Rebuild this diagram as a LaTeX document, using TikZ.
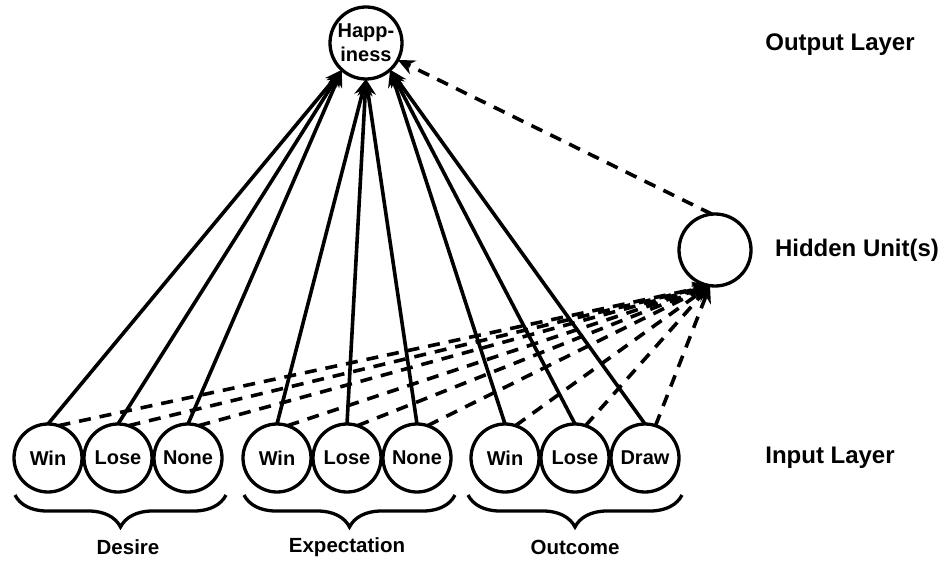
\documentclass[tikz,border=0pt]{standalone}
\usepackage{fontspec}
\setmainfont{Liberation Sans}
\usetikzlibrary{arrows.meta, decorations.pathreplacing}

\begin{document}
\begin{tikzpicture}[x=1pt, y=-1pt,
    unit/.style={circle, draw, line width=3.3pt, minimum size=68pt, inner sep=0pt,
      outer sep=0pt, align=center, font=\bfseries\fontsize{20}{24}\selectfont},
    layer/.style={font=\bfseries\fontsize{24}{28}\selectfont},
    group/.style={font=\bfseries\fontsize{20.5}{24}\selectfont},
    feed/.style={line width=3.6pt, -{Stealth[length=17pt,width=15pt]}},
    hid/.style={feed, dash pattern=on 12pt off 9pt},
    brc/.style={line width=3.3pt, decorate, decoration={brace, amplitude=32pt, aspect=0.5}}]
  %tikz  rete, happiness
    \useasboundingbox (0,0) rectangle (944,561);
    % output and hidden
    \node[unit, minimum size=72pt] (happy) at (366,43) {Happ-\\iness};
    \node[unit, minimum size=72pt] (hidden) at (715,250) {};
    % input layer
    \node[unit] (dwin) at (48,458) {Win};
    \node[unit] (dlose) at (118,458) {Lose};
    \node[unit] (dnone) at (188,458) {None};
    \node[unit] (ewin) at (277,458) {Win};
    \node[unit] (elose) at (347,458) {Lose};
    \node[unit] (enone) at (417,458) {None};
    \node[unit] (owin) at (505,458) {Win};
    \node[unit] (olose) at (575,458) {Lose};
    \node[unit] (odraw) at (645,458) {Draw};
    % labels
    \node[layer] (outlab) at (840,45) {Output Layer};
    \node[layer] (hidlab) at (857,250) {Hidden Unit(s)};
    \node[layer] (inlab) at (830,458) {Input Layer};
    % braces
    \draw[brc] ([xshift=4pt,yshift=-37pt]dnone.east) -- ([xshift=1pt,yshift=-37pt]dwin.west);
    \draw[brc] ([xshift=4pt,yshift=-37pt]enone.east) -- ([xshift=1pt,yshift=-37pt]ewin.west);
    \draw[brc] ([xshift=3pt,yshift=-37pt]odraw.east) -- ([xshift=-3pt,yshift=-37pt]owin.west);
    \node[group] (desire) at (128,547) {Desire};
    \node[group] (expect) at (347,547) {Expectation};
    \node[group] (outcome) at (575,547) {Outcome};
    % connections
    \foreach \n in {dwin,dlose,dnone}
      \draw[feed] (\n.north) -- (happy.228);
    \foreach \n in {ewin,elose,enone}
      \draw[feed] (\n.north) -- (happy.south);
    \foreach \n in {owin,olose,odraw}
      \draw[feed] (\n.north) -- (happy.312);
    \foreach \n in {dwin,dlose,dnone,ewin,elose,enone,owin,olose,odraw}
      \draw[hid] (\n.72) -- (hidden.262);
    \draw[hid] (hidden.95) -- (happy.332);
  \end{tikzpicture}
\end{document}
